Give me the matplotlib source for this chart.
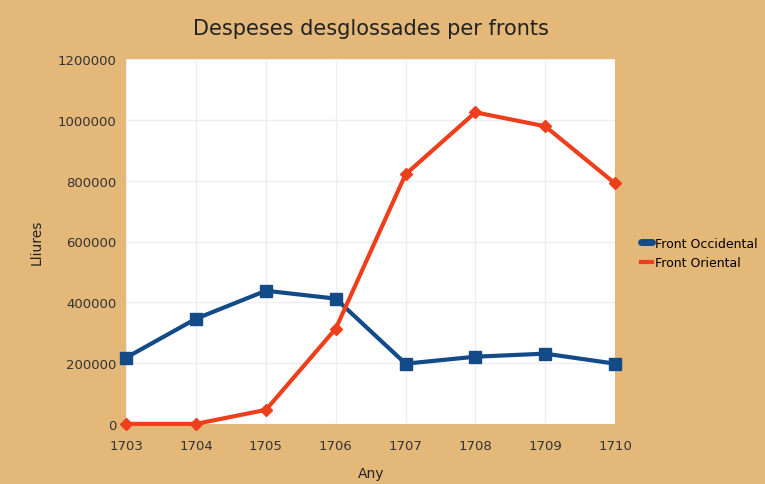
import matplotlib.pyplot as plt
from matplotlib.lines import Line2D

years = [1703, 1704, 1705, 1706, 1707, 1708, 1709, 1710]
occidental = [218000, 346000, 438000, 412000, 198000, 221000, 231000, 198000]
oriental = [0, 0, 46000, 313000, 821000, 1025000, 979000, 791000]
y_ticks = [0, 200000, 400000, 600000, 800000, 1000000, 1200000]
names = ['Front Occidental', 'Front Oriental']

bg = '#E4B878'
blue = '#134A88'
red = '#EE3F1C'

fig = plt.figure(figsize=(7.65, 4.85), dpi=100, facecolor=bg)
ax = fig.add_axes([0.165, 0.124, 0.639, 0.752])
ax.set_facecolor('white')

ax.plot(years, occidental, color=blue, lw=3, marker='s', ms=9,
        clip_on=False, zorder=3)
ax.plot(years, oriental, color=red, lw=3, marker='D', ms=6,
        clip_on=False, zorder=4)

ax.set_xlim(1703, 1710)
ax.set_ylim(0, 1200000)
ax.set_xticks(years)
ax.set_yticks(y_ticks)
ax.set_yticklabels([str(v) for v in y_ticks])
ax.grid(True, color='#EEEEEE', lw=1)
ax.set_axisbelow(True)
for s in ax.spines.values():
    s.set_visible(False)
ax.tick_params(length=0, labelsize=9.5, colors='#333333')
ax.tick_params(axis='x', pad=11)
ax.tick_params(axis='y', pad=7)

ax.set_title('Despeses desglossades per fronts', fontsize=15, color='#222222', pad=18)
ax.set_xlabel('Any', fontsize=10, color='#222222', labelpad=10)
ax.set_ylabel('Lliures', fontsize=10, color='#222222', labelpad=10)

# legend kept fully inside the figure
handles = [Line2D([], [], color=blue, lw=5, solid_capstyle='round'),
           Line2D([], [], color=red, lw=3)]
fig.legend(handles, names, loc='upper left', bbox_to_anchor=(0.838, 0.51),
           frameon=False, fontsize=9, handlelength=0.9, handletextpad=0.25,
           labelspacing=0.5, borderpad=0, borderaxespad=0)

fig.savefig('out.png', dpi=100, facecolor=bg)
